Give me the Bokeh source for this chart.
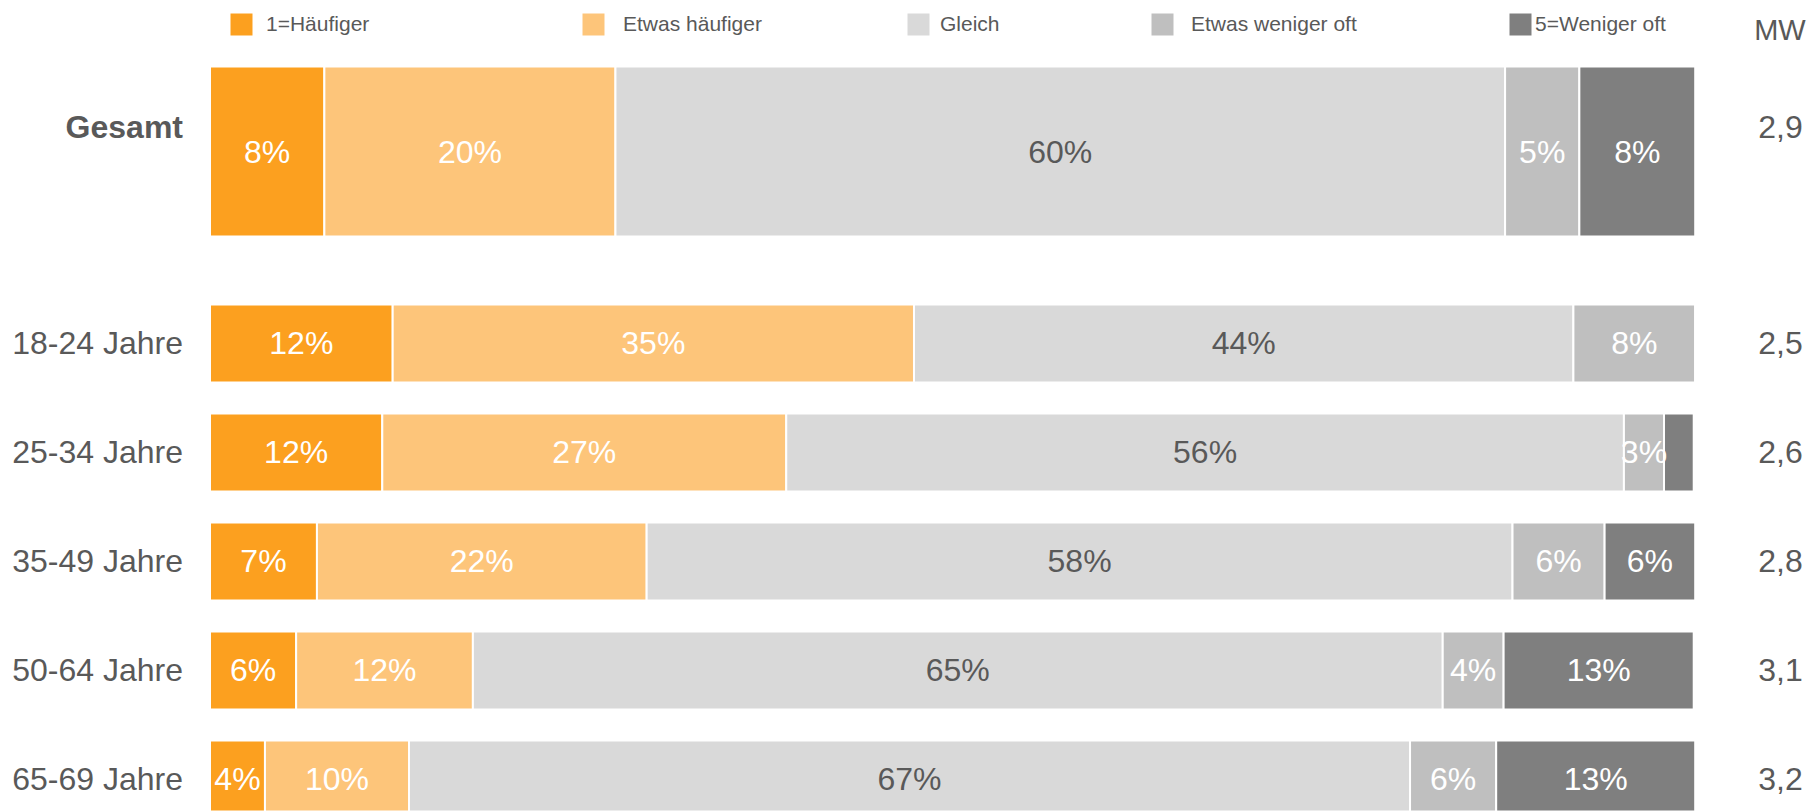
from bokeh.plotting import figure
from bokeh.models import Range1d, ColumnDataSource, Legend, LegendItem, Label
from bokeh.embed import file_html
from bokeh.resources import INLINE
from bokeh.core.properties import value
import numpy as np

# ---------------- data ----------------
groups = ["Gesamt", "18-24 Jahre", "25-34 Jahre", "35-49 Jahre", "50-64 Jahre", "65-69 Jahre"]
answers = ["1=Häufiger", "Etwas häufiger", "Gleich", "Etwas weniger oft", "5=Weniger oft"]
haeufiger = [7.7, 12.3, 11.6, 7.2, 5.8, 3.7]
etwas_haeufiger = [19.6, 35.1, 27.2, 22.2, 11.9, 9.7]
gleich = [59.9, 44.4, 56.4, 58.3, 65.3, 67.4]
etwas_weniger = [5.0, 8.2, 2.7, 6.2, 4.1, 5.8]
weniger = [7.8, 0.0, 2.0, 6.1, 12.8, 13.4]
mw_values = ["2,9", "2,5", "2,6", "2,8", "3,1", "3,2"]
mw_title = "MW"

# ---------------- style / layout ----------------
colors = ["#FCA01F", "#FDC57A", "#D9D9D9", "#BFBFBF", "#7F7F7F"]
label_colors = ["white", "white", "#595959", "white", "white"]
TEXT = "#595959"
FONT = "Liberation Sans"

W, H = 1815, 811
PX_PER_PCT = 14.852
X0 = 209.5           # canvas px of 0 %
ROW = 109.0          # px per row unit
Y0 = 151.0           # canvas px of Gesamt row centre
GAP = 1.761          # distance Gesamt -> first age row (rows)

def yrow(px):
    return (px - Y0) / ROW

ypos = [0.0] + [GAP + i for i in range(len(groups) - 1)]
heights = [1.56] + [0.716] * (len(groups) - 1)

series = [haeufiger, etwas_haeufiger, gleich, etwas_weniger, weniger]
keys = ["s0", "s1", "s2", "s3", "s4"]

src = ColumnDataSource(dict(y=ypos, h=heights, **{k: v for k, v in zip(keys, series)}))

p = figure(width=W, height=H, output_backend="svg", toolbar_location=None,
           x_range=Range1d(-X0 / PX_PER_PCT, (W - X0) / PX_PER_PCT),
           y_range=Range1d((H - Y0) / ROW, -Y0 / ROW),
           min_border=0, outline_line_color=None)
p.axis.visible = False
p.grid.visible = False
p.background_fill_color = "white"

rs = p.hbar_stack(keys, y="y", height="h", color=colors, source=src,
                  line_color="white", line_width=2)

# percentage labels
arr = np.array(series)
right = np.cumsum(arr, axis=0)
left = right - arr
for i in range(len(series)):
    cx = (left[i] + right[i]) / 2
    txt = [f"{int(round(v))}%" if v >= 2.5 else "" for v in arr[i]]
    ls = ColumnDataSource(dict(x=cx, y=ypos, t=txt))
    p.text(x="x", y="y", text="t", source=ls, text_align="center",
           text_baseline="middle", text_color=label_colors[i],
           text_font=value(FONT), text_font_size="32px")

# row labels
lab_src = ColumnDataSource(dict(x=[0] * (len(groups) - 1), y=ypos[1:], t=groups[1:]))
p.text(x="x", y="y", text="t", source=lab_src, x_offset=-27, text_align="right",
       text_baseline="middle", text_color=TEXT, text_font=value(FONT), text_font_size="32px")
g_src = ColumnDataSource(dict(x=[0], y=[ypos[0]], t=[groups[0]]))
p.text(x="x", y="y", text="t", source=g_src, x_offset=-27, y_offset=-25, text_align="right",
       text_baseline="middle", text_color=TEXT, text_font=value(FONT), text_font_size="32px",
       text_font_style="bold")

# MW column
mw_src = ColumnDataSource(dict(x=[100] * len(groups), y=ypos,
                               t=mw_values, yo=[-25] + [0] * (len(groups) - 1)))
p.text(x="x", y="y", text="t", source=mw_src, x_offset=63, y_offset="yo", text_align="left",
       text_baseline="middle", text_color=TEXT, text_font=value(FONT), text_font_size="32px")
p.add_layout(Label(x=100, y=yrow(29), x_offset=59, text=mw_title, text_align="left",
                   text_baseline="middle", text_color=TEXT, text_font=FONT,
                   text_font_size="29px"))

# legends (one per item, placed like the reference)
square_left = [230, 582, 907, 1151, 1509]
standoff = [10, 15, 7, 14, 0]
for i in range(len(answers)):
    lg = Legend(items=[LegendItem(label=answers[i], renderers=[rs[i]])],
                location=(square_left[i] - 4, H - 39), orientation="horizontal",
                padding=0, spacing=0, margin=0,
                border_line_alpha=0, background_fill_alpha=0,
                glyph_width=30, glyph_height=30, label_standoff=standoff[i],
                label_text_font=FONT, label_text_font_size="21px",
                label_text_color=TEXT, label_height=30)
    p.add_layout(lg)

open("out.html", "w").write(file_html(p, INLINE))
